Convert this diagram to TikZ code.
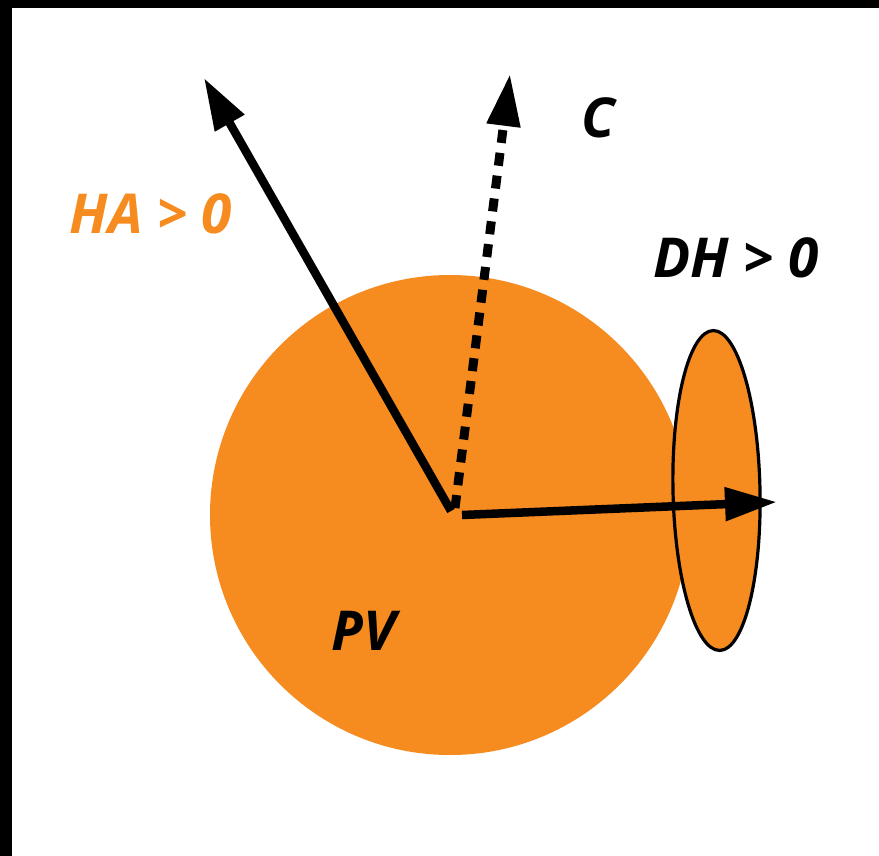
\documentclass[tikz,border=0pt]{standalone}
\usepackage{fontspec}
\setmainfont{Open Sans}
\usetikzlibrary{arrows.meta,shapes.geometric}
\definecolor{pvorange}{RGB}{246,139,31}
\tikzset{
  vec/.style={line width=8.5pt,-{Triangle[length=52pt,width=32pt]}},
  lbl/.style={font=\fontsize{55}{62}\selectfont\bfseries\itshape,inner sep=0pt}
}
\begin{document}
\begin{tikzpicture}[x=1pt,y=-1pt]
\useasboundingbox (0,0) rectangle (879,856);
\fill[white] (0,0) rectangle (879,856);
\fill[black] (0,0) rectangle (879,8);
\fill[black] (0,0) rectangle (12,856);
\node[circle,fill=pvorange,minimum size=480pt,inner sep=0pt] (pv) at (450,515) {};
\node[ellipse,fill=pvorange,draw=black,line width=3.2pt,minimum width=87pt,minimum height=320pt,inner sep=0pt,rotate=1.2] (dh) at (716.5,490.5) {};
\coordinate (o1) at (451,511);
\coordinate (o2) at (455,508);
\coordinate (o3) at (462,515);
\coordinate (t1) at (204,78);
\coordinate (t2) at (510,74);
\coordinate (t3) at (777,502);
\draw[vec] (o1) -- (t1);
\draw[vec,line width=9pt,dash pattern=on 13pt off 10pt] (o2) -- (t2);
\draw[vec] (o3) -- (t3);
\node[lbl,text=pvorange] (ha) at (151,214) {HA > 0};
\node[lbl] (c) at (598,118) {C};
\node[lbl] (dhl) at (736,258) {DH > 0};
\node[lbl] (pvl) at (364,631) {PV};
\end{tikzpicture}
\end{document}
